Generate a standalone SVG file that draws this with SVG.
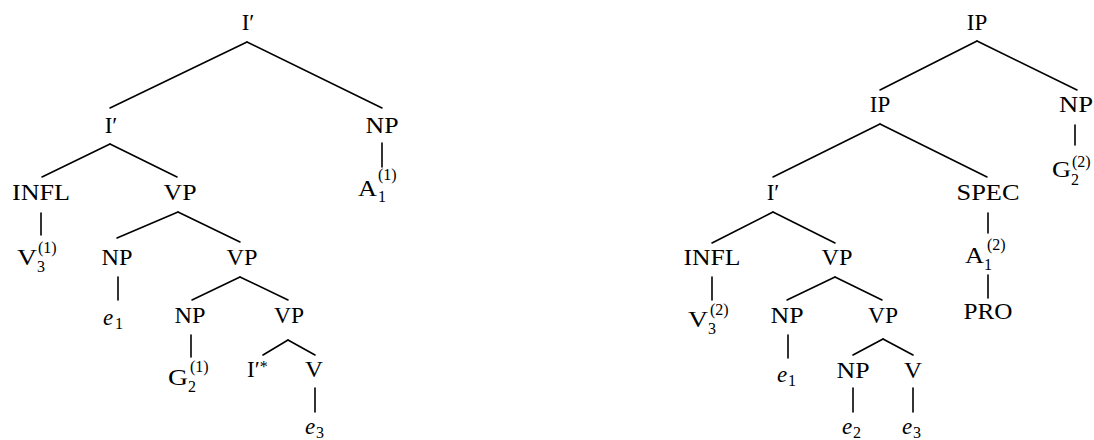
<svg xmlns="http://www.w3.org/2000/svg" width="1094" height="440" viewBox="0 0 1094 440">
<style>
text{font-family:"Liberation Serif","Times New Roman",serif;font-size:23px;fill:#000}
.m{text-anchor:middle}
.s{font-size:16px}
.i{font-style:italic}
#connectors line{stroke:#000;stroke-width:1.6;stroke-linecap:round}
</style>
<rect width="1094" height="440" fill="#fff"/>
<g id="connectors">
<line x1="247" y1="42" x2="110" y2="108"/><line x1="247" y1="42" x2="382" y2="108"/>
<line x1="110" y1="144" x2="42" y2="177"/><line x1="110" y1="144" x2="177" y2="177"/>
<line x1="382" y1="143" x2="382" y2="167"/>
<line x1="41" y1="213" x2="41" y2="235"/>
<line x1="178" y1="212" x2="117" y2="238"/><line x1="178" y1="212" x2="240" y2="242"/>
<line x1="118" y1="277" x2="118" y2="300"/>
<line x1="240" y1="277" x2="192" y2="300"/><line x1="240" y1="277" x2="288" y2="300"/>
<line x1="191" y1="335" x2="191" y2="357"/>
<line x1="288" y1="340" x2="263" y2="355"/><line x1="288" y1="340" x2="315" y2="355"/>
<line x1="315" y1="388" x2="315" y2="412"/>
<line x1="977" y1="41" x2="880" y2="90"/><line x1="977" y1="41" x2="1077" y2="90"/>
<line x1="1075" y1="125" x2="1075" y2="145"/>
<line x1="880" y1="124" x2="773" y2="177"/><line x1="880" y1="124" x2="987" y2="177"/>
<line x1="988" y1="213" x2="988" y2="233"/>
<line x1="988" y1="275" x2="988" y2="298"/>
<line x1="773" y1="212" x2="712" y2="243"/><line x1="773" y1="212" x2="835" y2="243"/>
<line x1="712" y1="277" x2="712" y2="300"/>
<line x1="835" y1="277" x2="787" y2="300"/><line x1="835" y1="277" x2="882" y2="300"/>
<line x1="788" y1="335" x2="788" y2="358"/>
<line x1="883" y1="339" x2="853" y2="355"/><line x1="883" y1="339" x2="913" y2="355"/>
<line x1="853" y1="388" x2="853" y2="412"/><line x1="913" y1="388" x2="913" y2="412"/>
</g>
<g id="L-Ibar-top"><text x="248" y="30" class="m">I′</text></g>
<g id="L-Ibar"><text x="111" y="133" class="m">I′</text></g>
<g id="L-NP-top"><text x="382" y="133" class="m" textLength="33" lengthAdjust="spacingAndGlyphs">NP</text></g>
<g id="L-A1"><text x="358" y="196" textLength="19" lengthAdjust="spacingAndGlyphs">A</text><text x="378" y="202" class="s">1</text><text x="378" y="180" class="s">(1)</text></g>
<g id="L-INFL"><text x="41" y="200" class="m" textLength="58" lengthAdjust="spacingAndGlyphs">INFL</text></g>
<g id="L-VP1"><text x="180" y="200" class="m" textLength="33" lengthAdjust="spacingAndGlyphs">VP</text></g>
<g id="L-V3"><text x="17" y="265" textLength="20" lengthAdjust="spacingAndGlyphs">V</text><text x="37" y="272" class="s">3</text><text x="38" y="253" class="s">(1)</text></g>
<g id="L-NP2"><text x="117" y="265" class="m" textLength="31" lengthAdjust="spacingAndGlyphs">NP</text></g>
<g id="L-VP2"><text x="242" y="265" class="m" textLength="31" lengthAdjust="spacingAndGlyphs">VP</text></g>
<g id="L-e1"><text x="103" y="325" class="i">e</text><text x="115" y="329" class="s">1</text></g>
<g id="L-NP3"><text x="190" y="323" class="m" textLength="31" lengthAdjust="spacingAndGlyphs">NP</text></g>
<g id="L-VP3"><text x="289" y="323" class="m" textLength="30" lengthAdjust="spacingAndGlyphs">VP</text></g>
<g id="L-G2"><text x="168" y="385" textLength="20" lengthAdjust="spacingAndGlyphs">G</text><text x="188" y="392" class="s">2</text><text x="190" y="372" class="s">(1)</text></g>
<g id="L-Ibarstar"><text x="247" y="377">I′<tspan class="s" dy="-5">*</tspan></text></g>
<g id="L-V"><text x="314" y="377" class="m" textLength="18" lengthAdjust="spacingAndGlyphs">V</text></g>
<g id="L-e3"><text x="305" y="434" class="i">e</text><text x="316" y="438" class="s">3</text></g>
<g id="R-IP-top"><text x="977" y="30" class="m">IP</text></g>
<g id="R-IP"><text x="880" y="112" class="m">IP</text></g>
<g id="R-NP-top"><text x="1076" y="112" class="m" textLength="34" lengthAdjust="spacingAndGlyphs">NP</text></g>
<g id="R-G2"><text x="1052" y="177" textLength="19" lengthAdjust="spacingAndGlyphs">G</text><text x="1071" y="185" class="s">2</text><text x="1072" y="167" class="s">(2)</text></g>
<g id="R-Ibar"><text x="773" y="200" class="m">I′</text></g>
<g id="R-SPEC"><text x="988" y="200" class="m" textLength="63" lengthAdjust="spacingAndGlyphs">SPEC</text></g>
<g id="R-A1"><text x="965" y="263" textLength="19" lengthAdjust="spacingAndGlyphs">A</text><text x="984" y="270" class="s">1</text><text x="987" y="250" class="s">(2)</text></g>
<g id="R-PRO"><text x="988" y="319" class="m" textLength="49" lengthAdjust="spacingAndGlyphs">PRO</text></g>
<g id="R-INFL"><text x="712" y="265" class="m" textLength="57" lengthAdjust="spacingAndGlyphs">INFL</text></g>
<g id="R-VP1"><text x="837" y="265" class="m" textLength="31" lengthAdjust="spacingAndGlyphs">VP</text></g>
<g id="R-V3"><text x="688" y="327" textLength="20" lengthAdjust="spacingAndGlyphs">V</text><text x="708" y="334" class="s">3</text><text x="710" y="315" class="s">(2)</text></g>
<g id="R-NP2"><text x="787" y="323" class="m" textLength="33" lengthAdjust="spacingAndGlyphs">NP</text></g>
<g id="R-VP2"><text x="883" y="323" class="m" textLength="30" lengthAdjust="spacingAndGlyphs">VP</text></g>
<g id="R-e1"><text x="777" y="382" class="i">e</text><text x="788" y="386" class="s">1</text></g>
<g id="R-NP3"><text x="853" y="378" class="m" textLength="33" lengthAdjust="spacingAndGlyphs">NP</text></g>
<g id="R-V"><text x="913" y="378" class="m" textLength="18" lengthAdjust="spacingAndGlyphs">V</text></g>
<g id="R-e2"><text x="842" y="434" class="i">e</text><text x="853" y="438" class="s">2</text></g>
<g id="R-e3"><text x="902" y="434" class="i">e</text><text x="913" y="438" class="s">3</text></g>
</svg>
